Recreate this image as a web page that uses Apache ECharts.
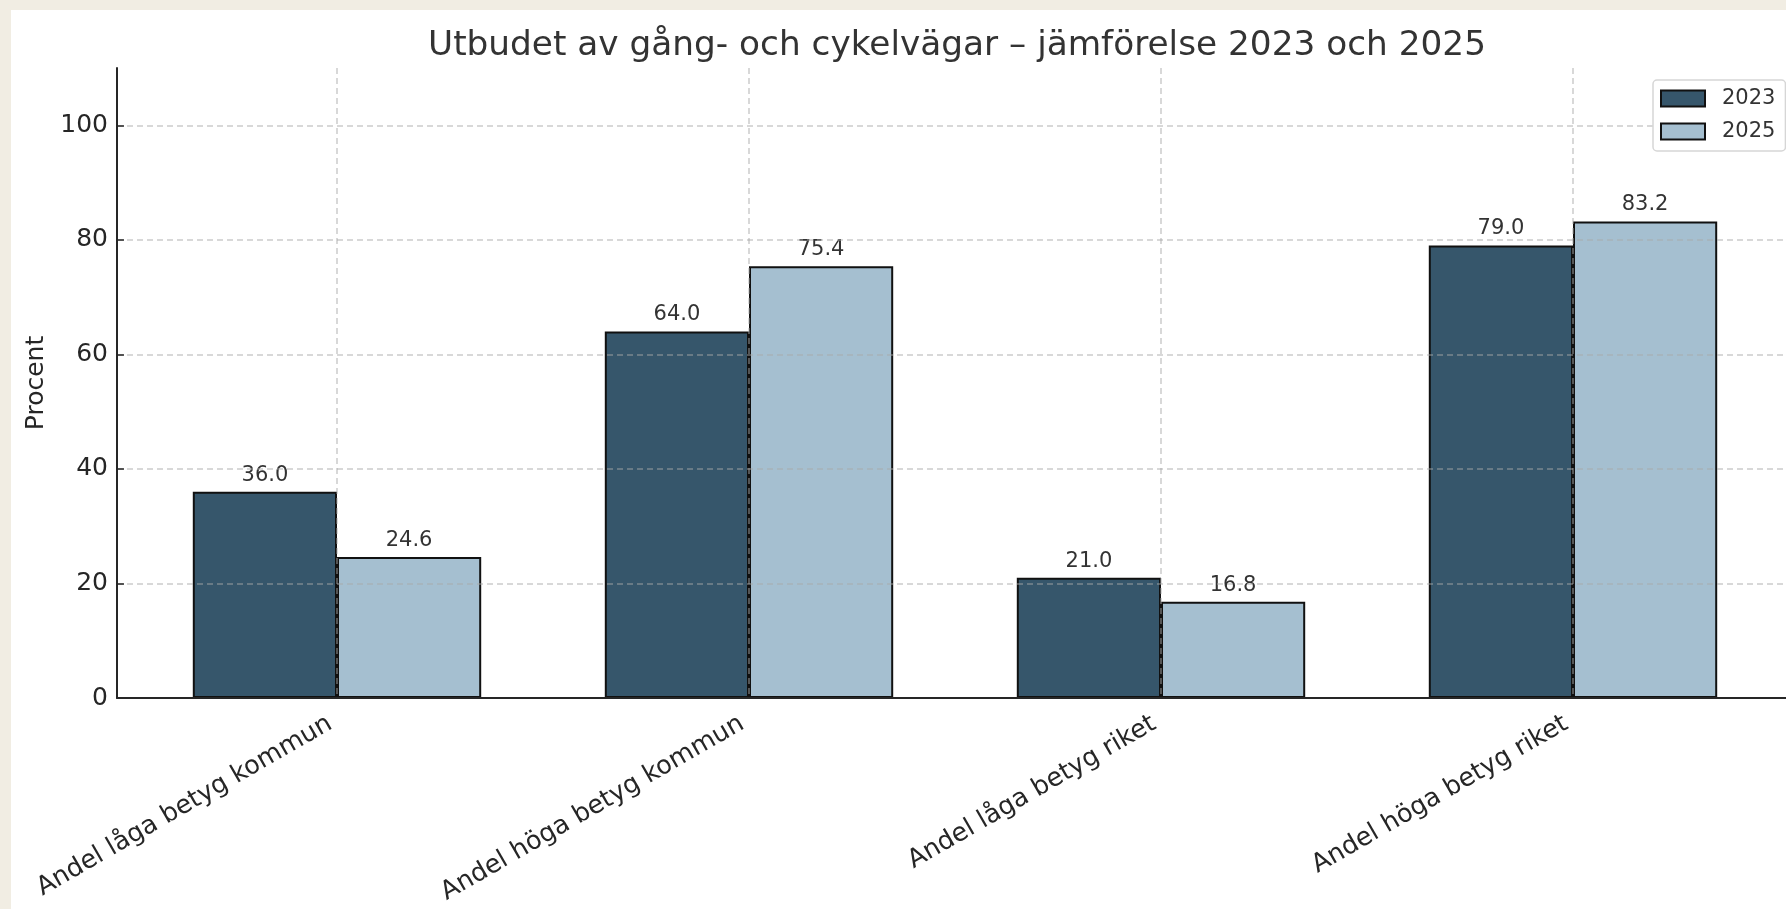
<!DOCTYPE html>
<html>
<head>
<meta charset="utf-8">
<title>Utbudet av gång- och cykelvägar</title>
<script src="https://cdn.jsdelivr.net/npm/echarts@6/dist/echarts.min.js"></script>
<style>
  html, body { margin: 0; padding: 0; background: #f1ede3; }
  #chart { position: absolute; left: 11px; top: 10px; width: 1775px; height: 899px; background: #fff; }
</style>
</head>
<body>
<div id="chart"></div>
<script>
var categories = [
  'Andel låga betyg kommun',
  'Andel höga betyg kommun',
  'Andel låga betyg riket',
  'Andel höga betyg riket'
];
var years = ['2023', '2025'];
var values2023 = [36.0, 64.0, 21.0, 79.0];
var values2025 = [24.6, 75.4, 16.8, 83.2];
var yTicks = [0, 20, 40, 60, 80, 100];

;(function() {
  var font = 'DejaVu Sans';
  var ink = '#262626';
  var gridLine = { type: [6, 4], color: 'rgba(170,170,170,0.6)', width: 1.5 };

  function barSeries(name, values, color) {
    return {
      name: name,
      type: 'bar',
      xAxisIndex: 1,
      yAxisIndex: 1,
      data: values,
      barWidth: '35%',
      barGap: '0%',
      itemStyle: { color: color, borderColor: '#111', borderWidth: 2 },
      label: {
        show: true,
        position: 'top',
        distance: 6,
        fontFamily: font,
        fontSize: 21,
        color: '#333',
        formatter: function(p) { return p.value.toFixed(1); }
      }
    };
  }

  var chart = echarts.init(document.getElementById('chart'));
  chart.setOption({
    animation: false,
    title: {
      text: 'Utbudet av gång- och cykelvägar – jämförelse 2023 och 2025',
      left: 941,
      top: 14,
      textAlign: 'center',
      textStyle: { fontFamily: font, fontSize: 34.3, fontWeight: 'normal', color: '#333' }
    },
    legend: {
      orient: 'vertical',
      left: 1642,
      top: 70,
      data: years,
      itemWidth: 44,
      itemHeight: 16,
      itemGap: 12,
      padding: [8, 10, 9, 7],
      backgroundColor: '#fff',
      borderColor: '#d6d6d6',
      borderWidth: 1.5,
      borderRadius: 4,
      icon: 'rect',
      textStyle: { fontFamily: font, fontSize: 21, color: '#333', padding: [0, 0, 0, 12] }
    },
    grid: [
      { left: 106, top: 58, width: 1676, height: 630 },
      { left: 120, top: 58, width: 1648, height: 630 }
    ],
    xAxis: [
      {
        type: 'value',
        gridIndex: 0,
        min: 0,
        max: 1,
        z: 4,
        axisLine: { show: true, onZero: false, lineStyle: { color: ink, width: 2 } },
        axisTick: { show: false },
        axisLabel: { show: false },
        splitLine: { show: false }
      },
      {
        type: 'category',
        gridIndex: 1,
        data: categories,
        z: 3,
        axisLine: { show: false },
        axisTick: { show: false },
        axisLabel: {
          rotate: 30,
          margin: 20,
          padding: [0, 8, 0, 0],
          fontFamily: font,
          fontSize: 25.5,
          color: ink
        },
        splitLine: { show: true, alignWithLabel: true, lineStyle: gridLine }
      }
    ],
    yAxis: [
      {
        type: 'value',
        gridIndex: 0,
        min: 0,
        max: 110,
        interval: 20,
        z: 3,
        name: 'Procent',
        nameLocation: 'middle',
        nameRotate: 90,
        nameGap: 63,
        nameTextStyle: { fontFamily: font, fontSize: 25, color: ink },
        axisLine: { show: true, lineStyle: { color: ink, width: 2 } },
        axisTick: { show: true, inside: true, length: 7, customValues: yTicks, lineStyle: { color: ink, width: 1.5 } },
        axisLabel: { margin: 9, customValues: yTicks, fontFamily: font, fontSize: 25, color: ink },
        splitLine: { show: true, lineStyle: gridLine }
      },
      {
        type: 'value',
        gridIndex: 1,
        min: 0,
        max: 110,
        show: false
      }
    ],
    series: [
      barSeries(years[0], values2023, '#36566b'),
      barSeries(years[1], values2025, '#a5bfd0')
    ]
  });
})();
</script>
</body>
</html>
